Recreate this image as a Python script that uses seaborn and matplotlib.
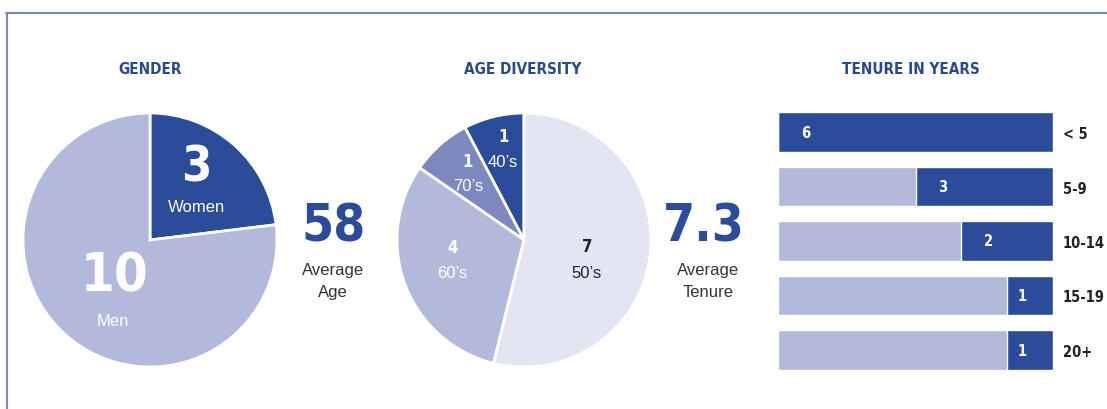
import numpy as np
import pandas as pd
import matplotlib
matplotlib.use("Agg")
import matplotlib.pyplot as plt
import seaborn as sns
from matplotlib import font_manager
from matplotlib.font_manager import FontProperties

# data
gender_labels = ["Women", "Men"]
gender_counts = [3, 10]
age_labels = ["40's", "70's", "60's", "50's"]
age_counts = [1, 1, 4, 7]
tenure_labels = ["< 5", "5-9", "10-14", "15-19", "20+"]
tenure_counts = [6, 3, 2, 1, 1]
avg_age = "58"
avg_tenure = "7.3"

DARK = "#2b4c9b"
LIGHT = "#b3b9db"
MID = "#7d87c0"
PALE = "#e3e5f2"
TITLE = "#2a4a8f"
GREY = "#333333"

sns.set_theme(style="white")
plt.rcParams["font.family"] = ["Liberation Sans", "DejaVu Sans"]


def narrow_bold():
    # look for any condensed / narrow bold face, else plain Liberation Sans Bold
    for f in font_manager.fontManager.ttflist:
        n = f.name.lower()
        st = str(f.stretch).lower()
        w = f.weight if isinstance(f.weight, int) else (700 if "bold" in str(f.weight) else 400)
        narrow = ("narrow" in n or "condensed" in n or "condensed" in st
                  or (isinstance(f.stretch, int) and f.stretch < 500))
        if narrow and w >= 600 and "oblique" not in f.style and "italic" not in f.style:
            return FontProperties(fname=f.fname)
    return FontProperties(family="Liberation Sans", weight="bold")


NB = narrow_bold()


def nb(size):
    fp = NB.copy()
    fp.set_size(size)
    return fp


W, H = 1107, 410
fig = plt.figure(figsize=(W / 100, H / 100), dpi=100)
fig.patch.set_facecolor("white")


def px_axes(x0, y0, x1, y1):
    # pixel box (top-left origin) -> figure axes
    return fig.add_axes([x0 / W, 1 - y1 / H, (x1 - x0) / W, (y1 - y0) / H])


def px_text(x, y, s, **kw):
    fig.text(x / W, 1 - y / H, s, ha="center", va="center", **kw)


# card border
fig.add_artist(plt.Line2D([6 / W, 1], [1 - 13.5 / H] * 2, color="#7a8aa8", lw=1.5))
fig.add_artist(plt.Line2D([6.5 / W] * 2, [0, 1 - 13.5 / H], color="#7a8aa8", lw=1.5))

# gender pie
ax1 = px_axes(23, 114, 277, 368)
ax1.pie(gender_counts, colors=[DARK, LIGHT], startangle=90, counterclock=False,
        wedgeprops=dict(edgecolor="white", linewidth=2))
ax1.set_xlim(-1, 1)
ax1.set_ylim(-1, 1)
ax1.axis("off")
px_text(196, 168, str(gender_counts[0]), color="white", fontproperties=nb(35))
px_text(197, 208, gender_labels[0], color="white", fontsize=12)
px_text(114, 276, str(gender_counts[1]), color="white", fontproperties=nb(39))
px_text(113, 322, gender_labels[1], color="white", fontsize=12)

# age pie
ax2 = px_axes(397, 114, 651, 368)
ax2.pie(age_counts, colors=[DARK, MID, LIGHT, PALE], startangle=90, counterclock=True,
        wedgeprops=dict(edgecolor="white", linewidth=2))
ax2.set_xlim(-1, 1)
ax2.set_ylim(-1, 1)
ax2.axis("off")
age_pos = [(503, 137, 163), (468, 162, 187), (452, 248, 273), (587, 247, 273)]
age_txt = ["white", "white", "white", "#222222"]
for (x, yn, yl), n, lab, c in zip(age_pos, age_counts, age_labels, age_txt):
    px_text(x, yn, str(n), color=c, fontproperties=nb(12))
    px_text(x, yl, lab.replace("'", "\u2019"), color=c, fontsize=12)

# big stats
px_text(334, 227, avg_age, color=DARK, fontproperties=nb(37))
px_text(333, 270, "Average", color=GREY, fontsize=12)
px_text(333, 293, "Age", color=GREY, fontsize=12)
px_text(704, 227, avg_tenure, color=DARK, fontproperties=nb(37))
px_text(708, 270, "Average", color=GREY, fontsize=12)
px_text(708, 293, "Tenure", color=GREY, fontsize=12)

# titles
for x, t in [(150, "GENDER"), (523, "AGE DIVERSITY"), (911, "TENURE IN YEARS")]:
    px_text(x, 70, t, color=TITLE, fontproperties=nb(11))

# tenure bars
full = max(tenure_counts)
df = pd.DataFrame({"range": tenure_labels,
                   "full": [full] * len(tenure_counts),
                   "rest": [full - v for v in tenure_counts],
                   "count": tenure_counts})
ax3 = px_axes(778, 105.75, 1053, 378.25)
sns.barplot(data=df, y="range", x="full", color=DARK, saturation=1, width=0.73,
            orient="h", ax=ax3)
sns.barplot(data=df, y="range", x="rest", color=LIGHT, saturation=1, width=0.73,
            orient="h", ax=ax3)
ax3.set_xlim(0, full)
ax3.set_ylim(len(tenure_labels) - 0.5, -0.5)
ax3.set_xlabel("")
ax3.set_ylabel("")
ax3.set_xticks([])
for s in ax3.spines.values():
    s.set_visible(False)
ax3.yaxis.tick_right()
ax3.tick_params(axis="y", length=0, pad=7)
for lab in ax3.get_yticklabels():
    lab.set_fontproperties(nb(10.5))
    lab.set_color("#222222")
for i, v in enumerate(tenure_counts):
    off = 0.6 if v > 1 else 0.33
    ax3.text(full - v + off, i, str(v), color="white", fontproperties=nb(10.5),
             ha="center", va="center")

fig.savefig("out.png", dpi=100, facecolor="white")
